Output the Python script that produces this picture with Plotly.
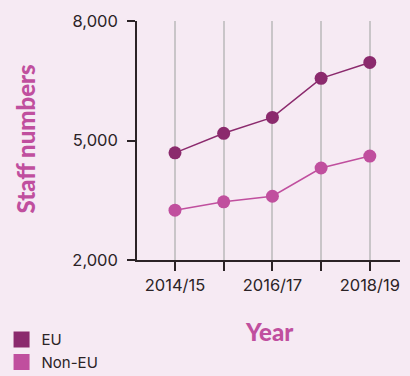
import plotly.graph_objects as go

years = ["2014/15", "2015/16", "2016/17", "2017/18", "2018/19"]
tick_labels = ["2014/15", "", "2016/17", "", "2018/19"]
eu = [4690, 5180, 5580, 6560, 6960]
non_eu = [3250, 3460, 3600, 4310, 4610]
y_ticks = [2000, 5000, 8000]

EU_COL = "#8b2a6d"
NON_COL = "#c04f9e"
BG = "#f6eaf3"
TXT = "#2b2326"
FONT = "Inter, Roboto, sans-serif"
TITLE_FONT = "Lato, Inter, sans-serif"

x_idx = list(range(len(years)))

fig = go.Figure()
fig.add_trace(go.Scatter(x=x_idx, y=eu, mode="lines+markers", showlegend=False,
                         line=dict(color=EU_COL, width=1.5),
                         marker=dict(color=EU_COL, size=13), cliponaxis=False))
fig.add_trace(go.Scatter(x=x_idx, y=non_eu, mode="lines+markers", showlegend=False,
                         line=dict(color=NON_COL, width=1.5),
                         marker=dict(color=NON_COL, size=13), cliponaxis=False))
# legend entries
fig.add_trace(go.Scatter(x=[None], y=[None], mode="markers", name="EU",
                         marker=dict(color=EU_COL, size=18, symbol="square")))
fig.add_trace(go.Scatter(x=[None], y=[None], mode="markers", name="Non-EU",
                         marker=dict(color=NON_COL, size=18, symbol="square")))

fig.update_layout(
    width=410, height=376,
    margin=dict(l=137, r=10, t=21, b=116, autoexpand=False),
    paper_bgcolor=BG, plot_bgcolor=BG,
    font=dict(family=FONT, size=16.5, color=TXT),
    showlegend=True,
    legend=dict(x=-0.515, y=-0.265, xanchor="left", yanchor="top",
                bgcolor="rgba(0,0,0,0)", font=dict(size=15, color=TXT),
                tracegroupgap=0, itemwidth=30),
    xaxis=dict(range=[-0.78, 4.62], tickmode="array", tickvals=x_idx, ticktext=tick_labels,
               showgrid=True, gridcolor="#c9c5c8", gridwidth=1.5,
               showline=True, linecolor=TXT, linewidth=1.5,
               ticks="outside", ticklen=9, tickwidth=1.5, tickcolor=TXT,
               zeroline=False, fixedrange=True),
    yaxis=dict(range=[2000, 8000], tickmode="array", tickvals=y_ticks,
               tickformat=",d", showgrid=False,
               showline=True, linecolor=TXT, linewidth=1.5,
               ticks="outside", ticklen=8, tickwidth=1.5, tickcolor=TXT,
               ticklabelstandoff=6,
               zeroline=False, fixedrange=True),
    annotations=[
        dict(text="Staff numbers", x=-0.425, y=0.505, xref="paper", yref="paper",
             textangle=-90, showarrow=False, xanchor="center", yanchor="middle",
             font=dict(family=TITLE_FONT, size=24, color=NON_COL, weight=900)),
        dict(text="Year", x=0.502, y=-0.30, xref="paper", yref="paper",
             showarrow=False, xanchor="center", yanchor="middle",
             font=dict(family=TITLE_FONT, size=24, color=NON_COL, weight=900)),
    ],
)

fig.write_html("out.html")
